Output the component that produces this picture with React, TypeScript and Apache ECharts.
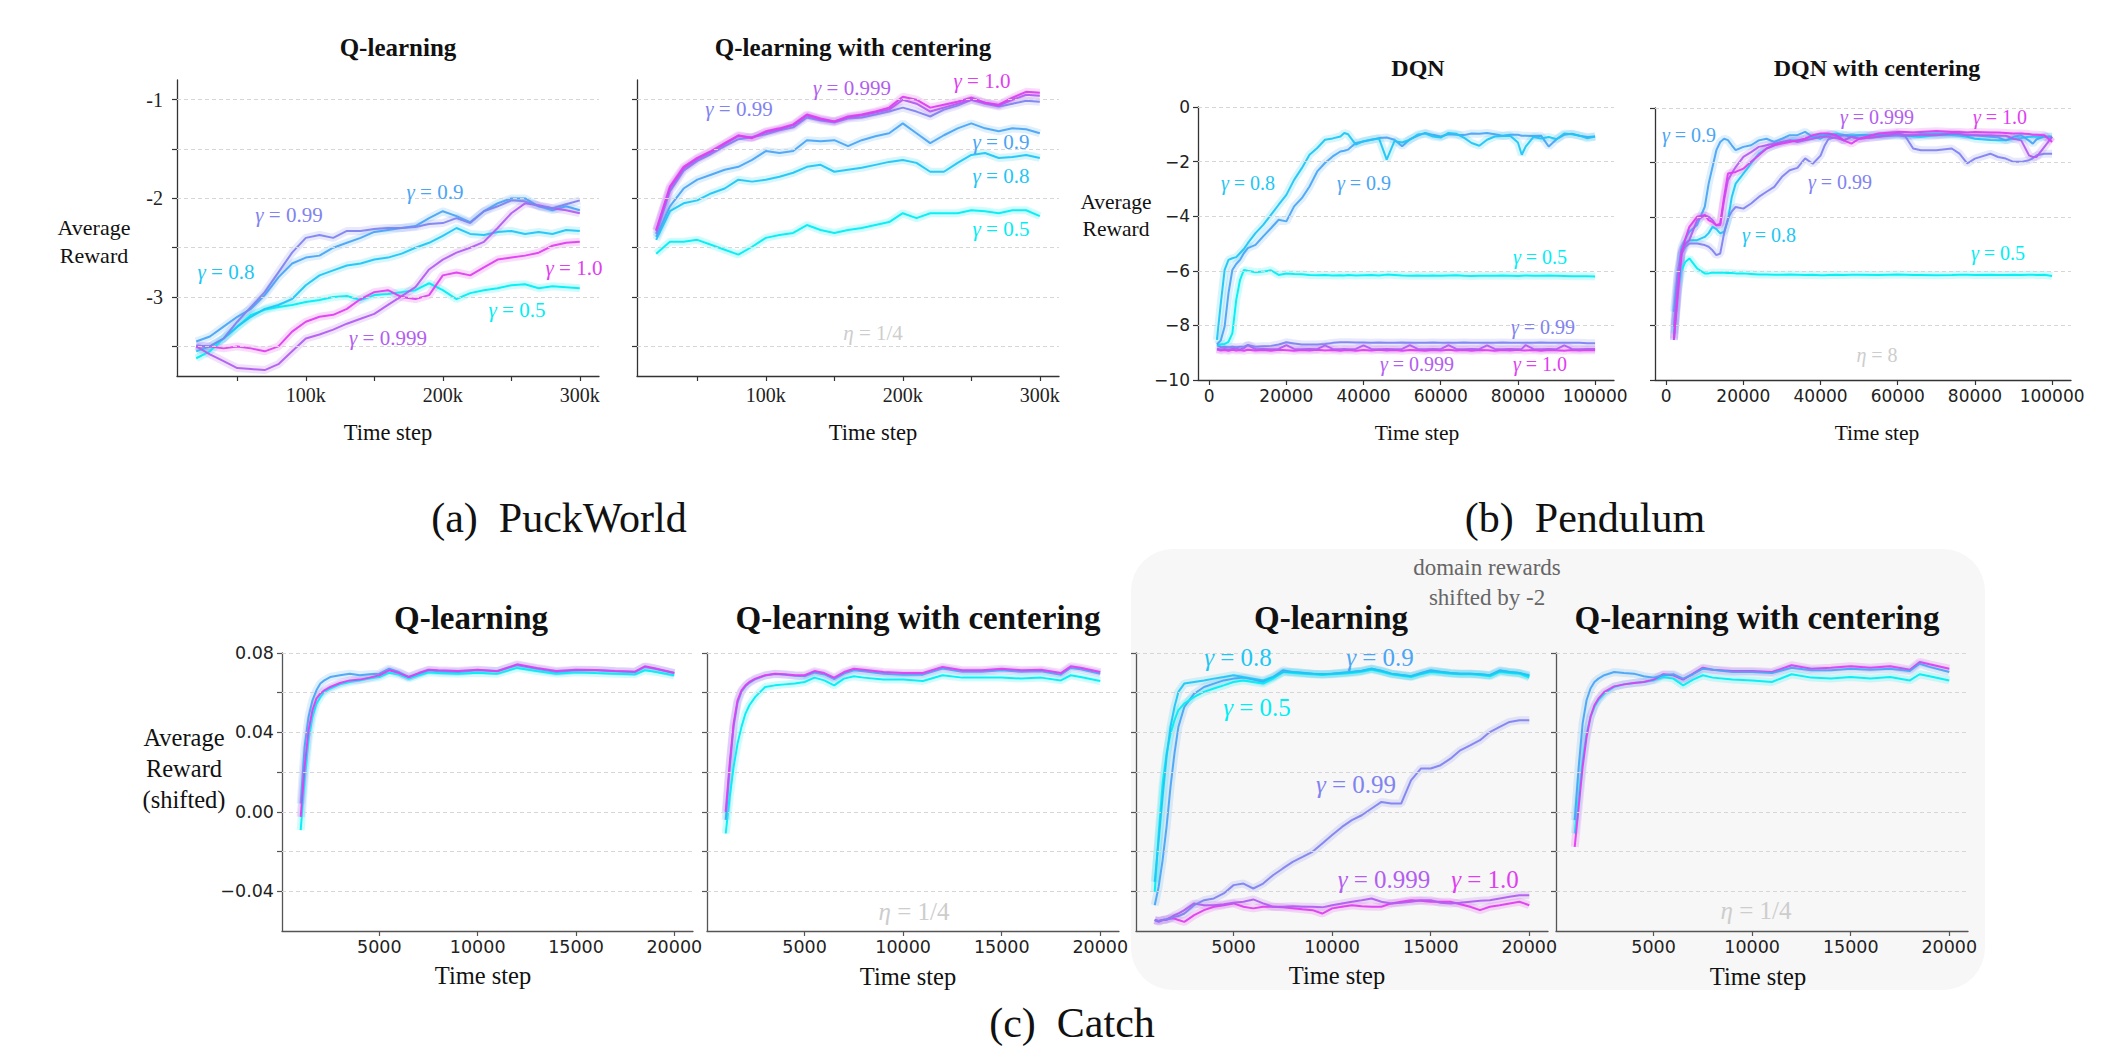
import React, { useEffect, useRef } from "react";
import * as echarts from "echarts";

const SERIF = "'Liberation Serif', 'Times New Roman', serif";
const SANS = "'DejaVu Sans', sans-serif";

const C05 = "#00eef3";
const C08 = "#1fc6f4";
const C09 = "#4aa5f4";
const C099 = "#8183f0";
const C0999 = "#b25ef0";
const C10 = "#e03ef0";
const ETA = "#cdcdcd";

// ---------- (a) PuckWorld (time steps in thousands) ----------
const PW_STEPS_K = [20, 30, 40, 50, 60, 70, 80, 90, 100, 110, 120, 130, 140, 150, 160, 170, 180, 190, 200, 210, 220, 230, 240, 250, 260, 270, 280, 290, 300];
const PW_TICKS = [50, 100, 150, 200, 250, 300];
const PW_LABELS = [100, 200, 300];
const PW_YTICKS = [-3.5, -3, -2.5, -2, -1.5, -1];
const PW_YLABELS = [-3, -2, -1];

const PWQ_05 = [-3.62, -3.55, -3.42, -3.30, -3.18, -3.13, -3.10, -3.08, -3.05, -3.03, -3.00, -2.99, -3.03, -2.98, -2.97, -2.95, -2.93, -2.86, -2.93, -3.02, -2.96, -2.93, -2.91, -2.88, -2.87, -2.91, -2.89, -2.90, -2.91];
const PWQ_08 = [-3.55, -3.50, -3.42, -3.30, -3.20, -3.12, -3.08, -3.02, -2.88, -2.78, -2.73, -2.68, -2.66, -2.62, -2.60, -2.56, -2.50, -2.45, -2.38, -2.30, -2.36, -2.37, -2.34, -2.33, -2.36, -2.34, -2.36, -2.32, -2.33];
const PWQ_09 = [-3.45, -3.40, -3.30, -3.20, -3.12, -2.98, -2.80, -2.66, -2.60, -2.58, -2.50, -2.45, -2.40, -2.34, -2.32, -2.30, -2.28, -2.20, -2.13, -2.18, -2.24, -2.13, -2.05, -2.00, -2.00, -2.08, -2.12, -2.08, -2.12];
const PWQ_099 = [-3.49, -3.50, -3.42, -3.25, -3.10, -2.95, -2.75, -2.55, -2.40, -2.37, -2.40, -2.33, -2.33, -2.31, -2.30, -2.30, -2.29, -2.26, -2.25, -2.20, -2.25, -2.13, -2.08, -2.02, -2.03, -2.08, -2.10, -2.06, -2.02];
const PWQ_0999 = [-3.50, -3.58, -3.65, -3.72, -3.73, -3.74, -3.68, -3.55, -3.42, -3.38, -3.33, -3.27, -3.22, -3.17, -3.08, -2.99, -2.90, -2.72, -2.62, -2.55, -2.50, -2.44, -2.30, -2.15, -2.05, -2.07, -2.10, -2.12, -2.15];
const PWQ_10 = [-3.50, -3.50, -3.52, -3.50, -3.52, -3.55, -3.50, -3.35, -3.25, -3.20, -3.18, -3.12, -3.02, -2.95, -2.93, -3.00, -3.02, -2.98, -2.78, -2.75, -2.78, -2.70, -2.62, -2.60, -2.58, -2.55, -2.48, -2.45, -2.44];

const PWC_05 = [-2.56, -2.44, -2.44, -2.42, -2.47, -2.52, -2.57, -2.49, -2.40, -2.37, -2.35, -2.27, -2.32, -2.35, -2.32, -2.30, -2.27, -2.24, -2.15, -2.20, -2.15, -2.15, -2.15, -2.12, -2.13, -2.15, -2.12, -2.12, -2.18];
const PWC_08 = [-2.42, -2.13, -2.05, -2.02, -1.95, -1.90, -1.81, -1.83, -1.81, -1.78, -1.74, -1.68, -1.66, -1.73, -1.71, -1.69, -1.66, -1.63, -1.61, -1.64, -1.73, -1.73, -1.64, -1.56, -1.54, -1.59, -1.58, -1.56, -1.59];
const PWC_09 = [-2.39, -2.08, -1.90, -1.81, -1.76, -1.71, -1.68, -1.61, -1.52, -1.54, -1.52, -1.41, -1.42, -1.41, -1.47, -1.41, -1.37, -1.34, -1.24, -1.34, -1.44, -1.36, -1.29, -1.24, -1.29, -1.32, -1.29, -1.30, -1.34];
const PWC_099 = [-2.36, -1.93, -1.72, -1.62, -1.55, -1.47, -1.40, -1.38, -1.35, -1.31, -1.28, -1.18, -1.21, -1.23, -1.19, -1.18, -1.15, -1.12, -1.08, -1.12, -1.17, -1.10, -1.06, -1.00, -1.04, -1.07, -1.04, -1.01, -1.02];
const PWC_0999 = [-2.33, -1.90, -1.70, -1.60, -1.53, -1.45, -1.37, -1.38, -1.33, -1.30, -1.26, -1.16, -1.20, -1.22, -1.18, -1.16, -1.13, -1.10, -1.00, -1.04, -1.12, -1.08, -1.04, -1.00, -1.03, -1.06, -1.00, -0.95, -0.96];
const PWC_10 = [-2.32, -1.88, -1.68, -1.59, -1.52, -1.44, -1.36, -1.39, -1.32, -1.29, -1.25, -1.15, -1.19, -1.22, -1.17, -1.15, -1.12, -1.08, -0.97, -1.00, -1.08, -1.05, -1.02, -0.98, -1.03, -1.05, -0.98, -0.92, -0.93];

// ---------- (b) Pendulum (time steps in thousands) ----------
const PD_TICKS = [0, 20, 40, 60, 80, 100];
const PD_YTICKS = [-10, -8, -6, -4, -2, 0];

const DQN_STEPS_K = [2, 3, 4, 5, 6, 7, 8, 9, 10, 12, 14, 16, 18, 20, 22, 24, 26, 28, 30, 32, 34, 35, 36, 38, 40, 42, 44, 46, 48, 50, 52, 54, 56, 58, 60, 62, 64, 66, 68, 70, 72, 74, 76, 78, 80, 81, 82, 84, 86, 88, 90, 92, 94, 96, 98, 100];
const DQN_05 = [-8.72, -8.70, -8.68, -8.60, -8.29, -7.07, -6.33, -5.97, -6.00, -6.05, -6.03, -5.98, -6.15, -6.10, -6.12, -6.13, -6.15, -6.16, -6.15, -6.17, -6.16, -6.17, -6.15, -6.17, -6.16, -6.15, -6.17, -6.14, -6.15, -6.17, -6.18, -6.17, -6.18, -6.17, -6.18, -6.17, -6.16, -6.18, -6.19, -6.18, -6.18, -6.18, -6.17, -6.18, -6.19, -6.18, -6.17, -6.18, -6.18, -6.17, -6.18, -6.19, -6.20, -6.20, -6.20, -6.21];
const DQN_08 = [-8.53, -7.20, -5.97, -5.60, -5.54, -5.50, -5.35, -5.20, -4.99, -4.62, -4.32, -3.95, -3.58, -3.22, -2.67, -2.24, -1.75, -1.50, -1.20, -1.15, -1.08, -0.95, -1.00, -1.38, -1.25, -1.20, -1.15, -1.93, -1.25, -1.30, -1.20, -1.01, -0.97, -1.08, -1.12, -0.95, -0.98, -1.12, -1.32, -1.42, -1.20, -1.08, -1.06, -1.05, -1.30, -1.75, -1.45, -1.10, -1.15, -1.10, -1.18, -0.97, -1.00, -1.05, -1.15, -1.08];
const DQN_09 = [-8.70, -8.55, -8.04, -6.82, -5.97, -5.75, -5.60, -5.35, -5.17, -5.05, -4.74, -4.44, -4.13, -4.19, -3.64, -3.34, -2.91, -2.36, -2.05, -1.81, -1.63, -1.60, -1.56, -1.32, -1.26, -1.20, -1.14, -1.12, -1.20, -1.44, -1.18, -1.06, -0.95, -1.02, -1.08, -1.00, -1.02, -1.03, -0.97, -0.98, -0.95, -1.00, -1.05, -1.02, -1.02, -1.05, -1.05, -1.06, -1.05, -1.45, -1.18, -1.02, -0.98, -1.05, -1.10, -1.08];
const DQN_099 = [-8.72, -8.80, -8.78, -8.80, -8.78, -8.80, -8.78, -8.78, -8.72, -8.78, -8.76, -8.75, -8.70, -8.62, -8.66, -8.70, -8.70, -8.70, -8.68, -8.64, -8.62, -8.62, -8.62, -8.63, -8.63, -8.64, -8.63, -8.64, -8.64, -8.63, -8.64, -8.64, -8.64, -8.63, -8.64, -8.64, -8.64, -8.63, -8.64, -8.64, -8.64, -8.64, -8.63, -8.64, -8.64, -8.64, -8.64, -8.64, -8.63, -8.64, -8.64, -8.64, -8.64, -8.64, -8.65, -8.65];
const DQN_0999 = [-8.85, -8.88, -8.86, -8.88, -8.86, -8.85, -8.88, -8.84, -8.72, -8.87, -8.86, -8.87, -8.86, -8.72, -8.86, -8.87, -8.86, -8.87, -8.73, -8.86, -8.87, -8.86, -8.87, -8.86, -8.73, -8.86, -8.87, -8.86, -8.87, -8.86, -8.72, -8.86, -8.87, -8.86, -8.87, -8.72, -8.86, -8.87, -8.86, -8.87, -8.73, -8.86, -8.87, -8.86, -8.87, -8.86, -8.72, -8.86, -8.87, -8.86, -8.87, -8.73, -8.86, -8.87, -8.86, -8.86];
const DQN_10 = [-8.88, -8.92, -8.90, -8.93, -8.89, -8.92, -8.90, -8.93, -8.89, -8.92, -8.90, -8.93, -8.89, -8.91, -8.93, -8.90, -8.92, -8.89, -8.92, -8.90, -8.93, -8.91, -8.90, -8.93, -8.90, -8.92, -8.89, -8.92, -8.90, -8.93, -8.90, -8.91, -8.93, -8.90, -8.92, -8.89, -8.92, -8.90, -8.93, -8.90, -8.91, -8.93, -8.90, -8.92, -8.89, -8.91, -8.92, -8.90, -8.93, -8.90, -8.91, -8.93, -8.90, -8.92, -8.90, -8.91];
const DQN_09_BAND_K = [14, 16, 18, 20, 22, 24, 26, 28, 30, 32, 34, 36, 38];
const DQN_09_LO = [-4.95, -4.70, -4.45, -4.55, -4.10, -3.80, -3.35, -2.75, -2.35, -2.05, -1.90, -1.80, -1.50];
const DQN_09_HI = [-4.50, -4.20, -3.85, -3.80, -3.25, -2.95, -2.55, -2.05, -1.75, -1.55, -1.40, -1.35, -1.20];

const DQNC_STEPS_K = [2, 3, 4, 5, 6, 8, 10, 11, 12, 13, 14, 15, 16, 17, 18, 20, 22, 24, 26, 28, 30, 32, 34, 36, 38, 40, 41, 42, 44, 46, 48, 50, 55, 60, 62, 64, 66, 70, 74, 76, 78, 80, 84, 86, 88, 90, 92, 94, 95, 96, 98, 100];
const DQNC_05 = [-8.29, -6.70, -5.96, -5.65, -5.53, -5.90, -6.08, -6.08, -6.05, -6.06, -6.05, -6.06, -6.07, -6.07, -6.08, -6.08, -6.10, -6.12, -6.12, -6.13, -6.13, -6.12, -6.13, -6.14, -6.13, -6.15, -6.15, -6.14, -6.13, -6.14, -6.13, -6.13, -6.14, -6.12, -6.13, -6.14, -6.14, -6.15, -6.14, -6.13, -6.13, -6.14, -6.13, -6.14, -6.14, -6.13, -6.14, -6.13, -6.13, -6.14, -6.13, -6.18];
const DQNC_08 = [-8.53, -6.70, -5.35, -4.98, -4.86, -4.86, -4.74, -4.60, -4.37, -4.45, -4.61, -4.55, -4.12, -3.27, -2.78, -2.41, -2.04, -1.68, -1.49, -1.37, -1.25, -1.19, -1.19, -1.13, -1.06, -1.00, -1.00, -0.98, -0.95, -0.98, -1.00, -1.00, -1.00, -1.00, -1.02, -1.05, -1.06, -1.00, -1.00, -1.02, -1.06, -1.13, -1.18, -1.19, -1.19, -1.13, -1.10, -1.06, -1.05, -1.06, -1.06, -1.06];
const DQNC_09 = [-7.49, -6.08, -5.10, -4.80, -4.55, -4.30, -3.63, -2.78, -2.17, -1.55, -1.25, -1.13, -1.18, -1.37, -1.55, -1.43, -1.37, -1.19, -1.13, -1.25, -1.13, -1.00, -1.00, -0.88, -1.06, -1.13, -1.05, -1.00, -1.00, -1.19, -1.06, -1.00, -1.00, -0.94, -1.00, -1.00, -0.96, -0.94, -0.95, -0.96, -1.00, -1.00, -1.06, -1.08, -1.19, -1.06, -1.00, -1.20, -1.31, -1.15, -1.05, -1.06];
const DQNC_099 = [-8.04, -6.08, -5.35, -5.10, -4.98, -4.98, -5.04, -5.10, -5.23, -5.41, -5.35, -4.61, -4.06, -3.80, -3.64, -3.70, -3.51, -3.27, -3.08, -2.90, -2.53, -2.29, -2.20, -1.85, -2.05, -1.75, -1.40, -1.15, -1.06, -1.00, -1.06, -1.13, -1.06, -1.00, -1.05, -1.49, -1.55, -1.55, -1.49, -1.68, -2.04, -1.86, -1.68, -1.80, -1.86, -1.98, -1.98, -1.92, -1.85, -1.74, -1.68, -1.68];
const DQNC_0999 = [-8.47, -6.50, -5.23, -5.00, -4.86, -4.12, -3.94, -4.00, -4.12, -4.31, -4.31, -3.39, -2.66, -2.40, -2.17, -1.80, -1.62, -1.43, -1.37, -1.31, -1.25, -1.19, -1.25, -1.19, -1.13, -1.06, -1.06, -1.06, -1.10, -1.19, -1.06, -1.13, -1.06, -0.94, -1.00, -1.00, -0.98, -1.00, -0.94, -0.96, -1.00, -1.00, -1.00, -1.02, -1.02, -1.13, -1.19, -1.74, -1.80, -1.80, -1.43, -1.06];
const DQNC_10 = [-8.53, -6.90, -5.35, -4.80, -4.37, -4.00, -3.94, -4.12, -4.20, -4.31, -4.25, -3.27, -2.41, -2.38, -2.35, -2.23, -1.98, -1.74, -1.49, -1.37, -1.31, -1.25, -1.19, -1.13, -1.00, -0.94, -0.94, -0.94, -1.00, -1.19, -1.31, -1.13, -0.94, -0.88, -0.88, -0.90, -0.88, -0.85, -0.88, -0.88, -0.90, -0.88, -0.90, -0.90, -0.92, -0.94, -0.94, -0.96, -0.98, -0.98, -1.00, -1.25];
const DQNC_099_BAND_K = [62, 64, 66, 70, 74, 76, 78, 80, 84, 88, 92, 94, 96, 98, 100];
const DQNC_099_LO = [-1.10, -1.90, -1.95, -1.95, -1.90, -2.00, -2.50, -2.30, -2.00, -2.10, -2.40, -2.60, -2.20, -2.10, -2.10];
const DQNC_099_HI = [-0.95, -1.00, -1.05, -1.05, -1.05, -1.10, -1.30, -1.20, -1.10, -1.20, -1.30, -1.25, -1.10, -1.10, -1.10];
const DQNC_10_BAND_K = [10, 12, 14, 16, 18, 20, 22, 24, 26];
const DQNC_10_LO = [-4.30, -4.50, -4.60, -3.00, -2.80, -2.70, -2.40, -2.00, -1.70];
const DQNC_10_HI = [-3.60, -3.90, -4.00, -2.00, -1.90, -1.80, -1.60, -1.50, -1.30];

// ---------- (c) Catch (time steps in thousands) ----------
const CT_TICKS = [5, 10, 15, 20];
const CT_YTICKS = [-0.04, -0.02, 0, 0.02, 0.04, 0.06, 0.08];
const CT_YLABELS = [-0.04, 0, 0.04, 0.08];

const CATCH_STEPS_K = [1.0, 1.2, 1.4, 1.6, 1.8, 2.0, 2.2, 2.5, 3.0, 3.5, 4.0, 4.5, 5.0, 5.5, 6.0, 6.5, 7.0, 7.5, 8.0, 9, 10, 11, 12, 13, 14, 15, 16, 17, 18, 18.5, 19, 20];
const CQ_05 = [-0.0092, 0.0159, 0.0361, 0.0478, 0.0545, 0.0579, 0.0604, 0.0621, 0.0642, 0.0654, 0.0662, 0.0671, 0.0679, 0.0701, 0.0691, 0.0671, 0.0688, 0.0703, 0.0699, 0.0696, 0.0701, 0.0696, 0.0725, 0.0709, 0.0696, 0.0703, 0.0699, 0.0696, 0.0693, 0.0713, 0.0706, 0.0688];
const CQ_09 = [0.0042, 0.0327, 0.0478, 0.0562, 0.0612, 0.0646, 0.0662, 0.0679, 0.0688, 0.0696, 0.0688, 0.0693, 0.0696, 0.0721, 0.0704, 0.0679, 0.0696, 0.0713, 0.0708, 0.0704, 0.0713, 0.0709, 0.0738, 0.0721, 0.0704, 0.0713, 0.0713, 0.0708, 0.0704, 0.0730, 0.0721, 0.0699];
const CQ_10 = [-0.0025, 0.0226, 0.0411, 0.0512, 0.0570, 0.0595, 0.0612, 0.0629, 0.0649, 0.0662, 0.0666, 0.0676, 0.0688, 0.0713, 0.0699, 0.0679, 0.0699, 0.0716, 0.0713, 0.0709, 0.0716, 0.0708, 0.0743, 0.0725, 0.0709, 0.0716, 0.0714, 0.0709, 0.0706, 0.0733, 0.0723, 0.0699];
const CC_05 = [-0.0109, 0.0075, 0.0226, 0.0344, 0.0428, 0.0495, 0.0537, 0.0579, 0.0629, 0.0637, 0.0642, 0.0646, 0.0654, 0.0676, 0.0662, 0.0637, 0.0671, 0.0683, 0.0676, 0.0666, 0.0666, 0.0659, 0.0688, 0.0676, 0.0676, 0.0676, 0.0671, 0.0676, 0.0662, 0.0688, 0.0679, 0.0659];
const CC_09 = [-0.0040, 0.0220, 0.0430, 0.0550, 0.0605, 0.0632, 0.0650, 0.0668, 0.0686, 0.0694, 0.0691, 0.0686, 0.0683, 0.0702, 0.0692, 0.0668, 0.0696, 0.0713, 0.0708, 0.0696, 0.0691, 0.0691, 0.0722, 0.0705, 0.0705, 0.0713, 0.0705, 0.0708, 0.0691, 0.0725, 0.0718, 0.0696];
const CC_10 = [0.0000, 0.0243, 0.0444, 0.0562, 0.0612, 0.0637, 0.0654, 0.0671, 0.0688, 0.0696, 0.0693, 0.0688, 0.0688, 0.0709, 0.0699, 0.0676, 0.0704, 0.0721, 0.0716, 0.0704, 0.0699, 0.0699, 0.0730, 0.0713, 0.0713, 0.0721, 0.0713, 0.0716, 0.0699, 0.0733, 0.0726, 0.0704];
const CSC_05 = [-0.0109, 0.0075, 0.0260, 0.0394, 0.0478, 0.0528, 0.0562, 0.0595, 0.0629, 0.0642, 0.0649, 0.0654, 0.0662, 0.0679, 0.0671, 0.0637, 0.0666, 0.0688, 0.0676, 0.0666, 0.0662, 0.0654, 0.0693, 0.0676, 0.0671, 0.0679, 0.0671, 0.0679, 0.0662, 0.0693, 0.0683, 0.0662];
const CSC_09 = [-0.0042, 0.0226, 0.0444, 0.0562, 0.0621, 0.0654, 0.0671, 0.0688, 0.0704, 0.0699, 0.0696, 0.0683, 0.0676, 0.0688, 0.0693, 0.0671, 0.0693, 0.0721, 0.0716, 0.0704, 0.0704, 0.0699, 0.0726, 0.0713, 0.0713, 0.0721, 0.0716, 0.0721, 0.0709, 0.0746, 0.0730, 0.0704];
const CSC_10 = [-0.0176, 0.0025, 0.0226, 0.0377, 0.0478, 0.0537, 0.0570, 0.0604, 0.0632, 0.0642, 0.0649, 0.0654, 0.0666, 0.0693, 0.0688, 0.0666, 0.0696, 0.0726, 0.0716, 0.0709, 0.0709, 0.0704, 0.0738, 0.0721, 0.0726, 0.0733, 0.0726, 0.0733, 0.0716, 0.0755, 0.0743, 0.0721];

const CATCH_FINE_K = [1.0, 1.2, 1.4, 1.6, 1.8, 2.0, 2.2, 2.5, 3.0, 3.5, 4.0, 4.5, 5.0, 5.5, 6.0, 6.5, 7.0, 7.5, 8.0, 8.5, 9.0, 9.5, 10.0, 10.5, 11.0, 11.5, 12.0, 12.5, 13.0, 13.5, 14.0, 14.5, 15.0, 15.5, 16.0, 16.5, 17.0, 17.5, 18.0, 18.5, 19.0, 19.5, 20.0];
const CS_05 = [-0.0403, -0.0109, 0.0142, 0.0293, 0.0394, 0.0461, 0.0512, 0.0545, 0.0579, 0.0604, 0.0621, 0.0637, 0.0654, 0.0662, 0.0654, 0.0646, 0.0671, 0.0704, 0.0699, 0.0696, 0.0693, 0.0689, 0.0693, 0.0696, 0.0699, 0.0706, 0.0716, 0.0706, 0.0693, 0.0686, 0.0679, 0.0693, 0.0704, 0.0701, 0.0696, 0.0693, 0.0693, 0.0689, 0.0683, 0.0704, 0.0699, 0.0696, 0.0676];
const CS_08 = [-0.0352, -0.0143, 0.0075, 0.0277, 0.0428, 0.0528, 0.0604, 0.0646, 0.0654, 0.0662, 0.0671, 0.0679, 0.0688, 0.0679, 0.0671, 0.0662, 0.0679, 0.0704, 0.0704, 0.0699, 0.0696, 0.0693, 0.0696, 0.0699, 0.0704, 0.0709, 0.0721, 0.0709, 0.0696, 0.0689, 0.0683, 0.0696, 0.0709, 0.0704, 0.0699, 0.0696, 0.0696, 0.0693, 0.0688, 0.0709, 0.0704, 0.0699, 0.0688];
const CS_09 = [-0.0470, -0.0377, -0.0243, -0.0076, 0.0126, 0.0293, 0.0428, 0.0528, 0.0595, 0.0629, 0.0646, 0.0662, 0.0671, 0.0676, 0.0666, 0.0654, 0.0679, 0.0713, 0.0704, 0.0701, 0.0696, 0.0694, 0.0696, 0.0701, 0.0704, 0.0711, 0.0721, 0.0711, 0.0696, 0.0689, 0.0683, 0.0699, 0.0713, 0.0706, 0.0699, 0.0696, 0.0696, 0.0693, 0.0688, 0.0713, 0.0704, 0.0699, 0.0683];
const CS_099 = [-0.0545, -0.0549, -0.0545, -0.0542, -0.0537, -0.0528, -0.0525, -0.0512, -0.0470, -0.0445, -0.0436, -0.0411, -0.0369, -0.0361, -0.0386, -0.0361, -0.0319, -0.0285, -0.0252, -0.0227, -0.0201, -0.0159, -0.0117, -0.0076, -0.0042, -0.0017, 0.0017, 0.0050, 0.0042, 0.0042, 0.0159, 0.0218, 0.0218, 0.0235, 0.0268, 0.0310, 0.0335, 0.0361, 0.0402, 0.0428, 0.0453, 0.0461, 0.0461];
const CS_0999 = [-0.0545, -0.0554, -0.0545, -0.0542, -0.0532, -0.0520, -0.0512, -0.0495, -0.0461, -0.0470, -0.0470, -0.0465, -0.0458, -0.0453, -0.0441, -0.0461, -0.0478, -0.0478, -0.0475, -0.0478, -0.0478, -0.0481, -0.0470, -0.0461, -0.0453, -0.0445, -0.0436, -0.0453, -0.0461, -0.0458, -0.0453, -0.0445, -0.0445, -0.0458, -0.0461, -0.0458, -0.0453, -0.0448, -0.0445, -0.0436, -0.0428, -0.0420, -0.0420];
const CS_10 = [-0.0545, -0.0549, -0.0545, -0.0542, -0.0537, -0.0537, -0.0545, -0.0554, -0.0520, -0.0495, -0.0478, -0.0470, -0.0461, -0.0478, -0.0486, -0.0478, -0.0478, -0.0481, -0.0486, -0.0491, -0.0495, -0.0512, -0.0486, -0.0478, -0.0470, -0.0475, -0.0478, -0.0478, -0.0461, -0.0453, -0.0445, -0.0448, -0.0453, -0.0453, -0.0453, -0.0465, -0.0478, -0.0495, -0.0478, -0.0470, -0.0461, -0.0453, -0.0470];

// ---------- helpers ----------
const pairs = (xs: number[], ys: number[]) => xs.map((x, i) => [x, ys[i]]);
const minus = (s: string) => s.replace("-", "\u2212");

function curve(gi: number, xs: number[], ys: number[], color: string, width = 2, grid?: number[]) {
  const out: any[] = [
    {
      type: "line", xAxisIndex: gi, yAxisIndex: gi, data: pairs(xs, ys), showSymbol: false, symbol: "none",
      silent: true, z: 3, lineStyle: { color, width: width + 6, opacity: 0.18 }, itemStyle: { color },
      markLine: grid
        ? {
            silent: true, symbol: ["none", "none"], label: { show: false }, animation: false,
            lineStyle: { type: [4, 3], color: "#d6d6d6", width: 1 },
            emphasis: { disabled: true },
            data: grid.map((v) => ({ yAxis: v })),
          }
        : undefined,
    },
    {
      type: "line", xAxisIndex: gi, yAxisIndex: gi, data: pairs(xs, ys), showSymbol: false, symbol: "none",
      silent: true, z: 4, lineStyle: { color, width, opacity: 0.95 }, itemStyle: { color },
    },
  ];
  return out;
}

function band(gi: number, key: string, xs: number[], lo: number[], hi: number[], color: string, opacity = 0.22) {
  return [
    {
      type: "line", xAxisIndex: gi, yAxisIndex: gi, data: pairs(xs, lo), stack: key, stackStrategy: "all",
      showSymbol: false, symbol: "none", silent: true, z: 2, lineStyle: { opacity: 0 },
    },
    {
      type: "line", xAxisIndex: gi, yAxisIndex: gi, data: pairs(xs, hi.map((h, i) => h - lo[i])), stack: key, stackStrategy: "all",
      showSymbol: false, symbol: "none", silent: true, z: 2, lineStyle: { opacity: 0 },
      areaStyle: { color, opacity },
    },
  ];
}

function axis(gi: number, min: number, max: number, ticks: number[], labels: number[] | null, fmt: (v: number) => string, font: string, size: number, color: string, margin: number) {
  return {
    gridIndex: gi, type: "value", min, max,
    axisLine: { show: true, onZero: false, lineStyle: { color, width: 1.3 } },
    axisTick: { show: true, inside: false, length: 5, customValues: ticks, lineStyle: { color, width: 1.2 } },
    axisLabel: labels
      ? { show: true, customValues: labels, formatter: fmt, fontFamily: font, fontSize: size, color: "#222", margin, showMinLabel: true, showMaxLabel: true }
      : { show: false },
    splitLine: { show: false },
  };
}

const kLabel = (v: number) => `${Math.round(v)}k`;
const stepsLabel = (v: number) => String(Math.round(v * 1000));
const plainInt = (v: number) => String(v);
const dqnY = (v: number) => minus(String(v));
const catchY = (v: number) => minus((Math.abs(v) < 1e-9 ? 0 : v).toFixed(2));

function text(x: number, y: number, t: string, size: number, extra: any = {}) {
  return {
    type: "text", x, y, silent: true, z: 10,
    style: { text: t, fontSize: size, fontFamily: SERIF, fill: "#111", align: "center", verticalAlign: "middle", ...extra },
  };
}
function gLabel(x: number, y: number, g: string, color: string, size: number) {
  return {
    type: "text", x, y, silent: true, z: 10,
    style: {
      text: `{g|\u03b3}{n| = ${g}}`, align: "center", verticalAlign: "middle",
      rich: {
        g: { fontStyle: "italic", fontSize: size, fontFamily: SERIF, fill: color },
        n: { fontSize: size, fontFamily: SERIF, fill: color },
      },
    },
  };
}
function etaLabel(x: number, y: number, v: string, size: number) {
  return {
    type: "text", x, y, silent: true, z: 10,
    style: {
      text: `{g|\u03b7}{n| = ${v}}`, align: "center", verticalAlign: "middle",
      rich: {
        g: { fontStyle: "italic", fontSize: size, fontFamily: SERIF, fill: ETA },
        n: { fontSize: size, fontFamily: SERIF, fill: ETA },
      },
    },
  };
}

const PW_GRID = [-3.5, -3, -2.5, -2, -1.5, -1];
const PD_GRID = [-8, -6, -4, -2, 0];
const CT_GRID = [-0.04, -0.02, 0, 0.02, 0.04, 0.06, 0.08];

function buildOption() {
  const AX = "#333";
  const AXC = "#555";
  const grids = [
    { left: 177, top: 80, width: 422, height: 296 },
    { left: 637, top: 80, width: 422, height: 296 },
    { left: 1198, top: 107, width: 416, height: 273 },
    { left: 1655, top: 108, width: 416, height: 272 },
    { left: 282, top: 653, width: 411, height: 278 },
    { left: 707, top: 653, width: 412, height: 278 },
    { left: 1136, top: 653, width: 412, height: 278 },
    { left: 1556, top: 653, width: 412, height: 278 },
  ].map((g) => ({ ...g, containLabel: false }));

  const xAxis = [
    axis(0, 6, 314, PW_TICKS, PW_LABELS, kLabel, SERIF, 20, AX, 9),
    axis(1, 6, 314, PW_TICKS, PW_LABELS, kLabel, SERIF, 20, AX, 9),
    axis(2, -2.9, 104.9, PD_TICKS, PD_TICKS, stepsLabel, SANS, 17, AX, 7),
    axis(3, -2.9, 104.9, PD_TICKS, PD_TICKS, stepsLabel, SANS, 17, AX, 7),
    axis(4, 0.05, 20.95, CT_TICKS, CT_TICKS, stepsLabel, SANS, 17.5, AXC, 7),
    axis(5, 0.05, 20.95, CT_TICKS, CT_TICKS, stepsLabel, SANS, 17.5, AXC, 7),
    axis(6, 0.05, 20.95, CT_TICKS, CT_TICKS, stepsLabel, SANS, 17.5, AXC, 7),
    axis(7, 0.05, 20.95, CT_TICKS, CT_TICKS, stepsLabel, SANS, 17.5, AXC, 7),
  ];
  const yAxis = [
    axis(0, -3.8, -0.8, PW_YTICKS, PW_YLABELS, plainInt, SERIF, 20, AX, 14),
    axis(1, -3.8, -0.8, PW_YTICKS, null, plainInt, SERIF, 20, AX, 14),
    axis(2, -10, 0, PD_YTICKS, PD_YTICKS, dqnY, SANS, 17, AX, 8),
    axis(3, -10, 0, PD_YTICKS, null, dqnY, SANS, 17, AX, 8),
    axis(4, -0.06, 0.08, CT_YTICKS, CT_YLABELS, catchY, SANS, 17.5, AXC, 8),
    axis(5, -0.06, 0.08, CT_YTICKS, null, catchY, SANS, 17.5, AXC, 8),
    axis(6, -0.06, 0.08, CT_YTICKS, null, catchY, SANS, 17.5, AXC, 8),
    axis(7, -0.06, 0.08, CT_YTICKS, null, catchY, SANS, 17.5, AXC, 8),
  ];

  const series: any[] = [
    // (a) PuckWorld Q-learning
    ...curve(0, PW_STEPS_K, PWQ_05, C05, 2, PW_GRID),
    ...curve(0, PW_STEPS_K, PWQ_08, C08),
    ...curve(0, PW_STEPS_K, PWQ_09, C09),
    ...curve(0, PW_STEPS_K, PWQ_0999, C0999),
    ...curve(0, PW_STEPS_K, PWQ_10, C10),
    ...curve(0, PW_STEPS_K, PWQ_099, C099),
    // (a) with centering
    ...curve(1, PW_STEPS_K, PWC_05, C05, 2, PW_GRID),
    ...curve(1, PW_STEPS_K, PWC_08, C08),
    ...curve(1, PW_STEPS_K, PWC_09, C09),
    ...curve(1, PW_STEPS_K, PWC_099, C099),
    ...curve(1, PW_STEPS_K, PWC_0999, C0999),
    ...curve(1, PW_STEPS_K, PWC_10, C10),
    // (b) DQN
    ...band(2, "b09", DQN_09_BAND_K, DQN_09_LO, DQN_09_HI, C09),
    ...curve(2, DQN_STEPS_K, DQN_10, C10, 2, PD_GRID),
    ...curve(2, DQN_STEPS_K, DQN_0999, C0999),
    ...curve(2, DQN_STEPS_K, DQN_099, C099),
    ...curve(2, DQN_STEPS_K, DQN_05, C05),
    ...curve(2, DQN_STEPS_K, DQN_09, C09),
    ...curve(2, DQN_STEPS_K, DQN_08, C08),
    // (b) DQN with centering
    ...band(3, "c099", DQNC_099_BAND_K, DQNC_099_LO, DQNC_099_HI, C099),
    ...band(3, "c10", DQNC_10_BAND_K, DQNC_10_LO, DQNC_10_HI, C10, 0.18),
    ...curve(3, DQNC_STEPS_K, DQNC_05, C05, 2, PD_GRID),
    ...curve(3, DQNC_STEPS_K, DQNC_08, C08),
    ...curve(3, DQNC_STEPS_K, DQNC_09, C09),
    ...curve(3, DQNC_STEPS_K, DQNC_099, C099),
    ...curve(3, DQNC_STEPS_K, DQNC_0999, C0999),
    ...curve(3, DQNC_STEPS_K, DQNC_10, C10),
    // (c) Catch Q-learning
    ...curve(4, CATCH_STEPS_K, CQ_05, C05, 2, CT_GRID),
    ...curve(4, CATCH_STEPS_K, CQ_09, C09),
    ...curve(4, CATCH_STEPS_K, CQ_10, C10),
    // (c) with centering
    ...curve(5, CATCH_STEPS_K, CC_05, C05, 2, CT_GRID),
    ...curve(5, CATCH_STEPS_K, CC_09, C09),
    ...curve(5, CATCH_STEPS_K, CC_10, C10),
    // (c) shifted Q-learning
    ...curve(6, CATCH_FINE_K, CS_10, C10, 2, CT_GRID),
    ...curve(6, CATCH_FINE_K, CS_0999, C0999),
    ...curve(6, CATCH_FINE_K, CS_099, C099),
    ...curve(6, CATCH_FINE_K, CS_09, C09),
    ...curve(6, CATCH_FINE_K, CS_05, C05),
    ...curve(6, CATCH_FINE_K, CS_08, C08),
    // (c) shifted with centering
    ...curve(7, CATCH_STEPS_K, CSC_05, C05, 2, CT_GRID),
    ...curve(7, CATCH_STEPS_K, CSC_10, C10),
    ...curve(7, CATCH_STEPS_K, CSC_09, C09),
  ];

  const elements: any[] = [
    { type: "rect", silent: true, z: -10, shape: { x: 1131, y: 549, width: 854, height: 441, r: 42 }, style: { fill: "#f7f7f7" } },
    // titles
    text(398, 47, "Q-learning", 25, { fontWeight: "bold" }),
    text(853, 47, "Q-learning with centering", 25, { fontWeight: "bold" }),
    text(1418, 68, "DQN", 24, { fontWeight: "bold" }),
    text(1877, 68, "DQN with centering", 24, { fontWeight: "bold" }),
    text(471, 618, "Q-learning", 33, { fontWeight: "bold" }),
    text(918, 618, "Q-learning with centering", 33, { fontWeight: "bold" }),
    text(1331, 618, "Q-learning", 33, { fontWeight: "bold" }),
    text(1757, 618, "Q-learning with centering", 33, { fontWeight: "bold" }),
    // axis names
    text(94, 241, "Average\nReward", 22, { lineHeight: 28 }),
    text(1116, 215, "Average\nReward", 21.5, { lineHeight: 27 }),
    text(184, 768, "Average\nReward\n(shifted)", 24.5, { lineHeight: 31 }),
    text(388, 432, "Time step", 22.5),
    text(873, 432, "Time step", 22.5),
    text(1417, 433, "Time step", 21.5),
    text(1877, 433, "Time step", 21.5),
    text(483, 975, "Time step", 24.5),
    text(908, 976, "Time step", 24.5),
    text(1337, 975, "Time step", 24.5),
    text(1758, 976, "Time step", 24.5),
    // captions
    text(559, 518, "(a)  PuckWorld", 42),
    text(1585, 518, "(b)  Pendulum", 42),
    text(1072, 1023, "(c)  Catch", 42),
    text(1487, 567, "domain rewards", 23, { fill: "#666" }),
    text(1487, 597, "shifted by -2", 23, { fill: "#666" }),
    // gamma labels PuckWorld
    gLabel(289, 215, "0.99", C099, 21),
    gLabel(435, 192, "0.9", C09, 21),
    gLabel(226, 272, "0.8", C08, 21),
    gLabel(574, 268, "1.0", C10, 21),
    gLabel(517, 310, "0.5", C05, 21),
    gLabel(388, 338, "0.999", C0999, 21),
    gLabel(739, 109, "0.99", C099, 21),
    gLabel(852, 88, "0.999", C0999, 21),
    gLabel(982, 81, "1.0", C10, 21),
    gLabel(1001, 142, "0.9", C09, 21),
    gLabel(1001, 176, "0.8", C08, 21),
    gLabel(1001, 229, "0.5", C05, 21),
    etaLabel(873, 333, "1/4", 21),
    // gamma labels Pendulum
    gLabel(1248, 183, "0.8", C08, 20),
    gLabel(1364, 183, "0.9", C09, 20),
    gLabel(1540, 257, "0.5", C05, 20),
    gLabel(1543, 327, "0.99", C099, 20),
    gLabel(1417, 364, "0.999", C0999, 20),
    gLabel(1540, 364, "1.0", C10, 20),
    gLabel(1689, 135, "0.9", C09, 20),
    gLabel(1877, 117, "0.999", C0999, 20),
    gLabel(2000, 117, "1.0", C10, 20),
    gLabel(1840, 182, "0.99", C099, 20),
    gLabel(1769, 235, "0.8", C08, 20),
    gLabel(1998, 253, "0.5", C05, 20),
    etaLabel(1877, 355, "8", 20),
    // gamma labels Catch
    gLabel(1238, 657, "0.8", C08, 25),
    gLabel(1380, 657, "0.9", C09, 25),
    gLabel(1257, 707, "0.5", C05, 25),
    gLabel(1356, 784, "0.99", C099, 25),
    gLabel(1384, 879, "0.999", C0999, 25),
    gLabel(1485, 879, "1.0", C10, 25),
    etaLabel(914, 911, "1/4", 25),
    etaLabel(1756, 910, "1/4", 25),
  ];

  return {
    animation: false,
    backgroundColor: "#ffffff",
    grid: grids,
    xAxis,
    yAxis,
    series,
    graphic: { elements },
  };
}

export default function App() {
  const ref = useRef<HTMLDivElement>(null);
  useEffect(() => {
    if (!ref.current) return;
    const chart = echarts.init(ref.current, null, { renderer: "svg" });
    chart.setOption(buildOption() as any);
    return () => chart.dispose();
  }, []);
  return <div ref={ref} style={{ position: "absolute", left: 0, top: 0, width: 2105, height: 1056 }} />;
}
